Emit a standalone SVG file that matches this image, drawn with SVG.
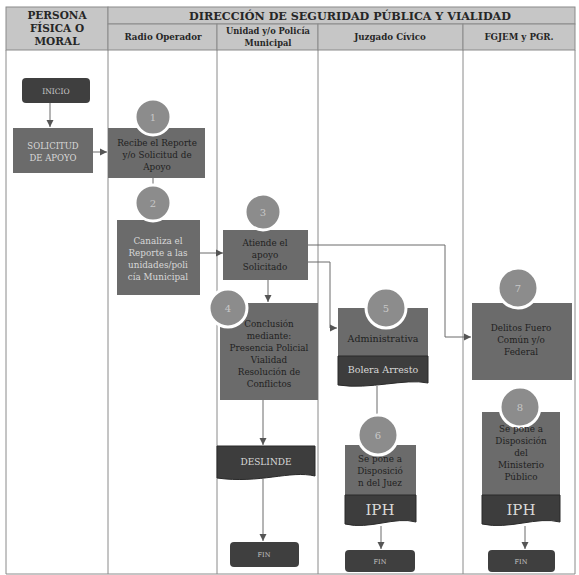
<svg xmlns="http://www.w3.org/2000/svg" width="579" height="575" viewBox="0 0 579 575">
<defs>
<style>
.hdr{fill:#c6c6c6;stroke:#8a8a8a;stroke-width:1}
.ht{font-family:"DejaVu Serif",serif;font-weight:700;fill:#262626;text-anchor:middle}
.lane{fill:none;stroke:#8a8a8a;stroke-width:1}
.box{fill:#6b6b6b}
.dark{fill:#3d3d3d;stroke:#2a2a2a;stroke-width:1}
.term{fill:#3f3f3f}
.num{fill:#8c8c8c;stroke:#ffffff;stroke-width:3}
.t{font-family:"DejaVu Serif",serif;font-size:8.8px;fill:#1f1f1f;text-anchor:middle}
.tl{font-family:"DejaVu Serif",serif;font-size:8.8px;fill:#d8d8d8;text-anchor:middle}
.nt{font-family:"DejaVu Serif",serif;font-size:10px;fill:#c8c8c8;text-anchor:middle}
.c{fill:none;stroke:#6a6a6a;stroke-width:1}
</style>
<marker id="ah" markerWidth="8" markerHeight="8" refX="7" refY="4" orient="auto" markerUnits="userSpaceOnUse">
<path d="M0,0.5 L7,4 L0,7.5 Z" fill="#555"/>
</marker>
</defs>
<rect width="579" height="575" fill="#ffffff"/>
<g id="lanes">
<rect class="hdr" x="6" y="7" width="102" height="43"/>
<rect class="hdr" x="108" y="7" width="467" height="17"/>
<rect class="hdr" x="108" y="24" width="109" height="26"/>
<rect class="hdr" x="217" y="24" width="101" height="26"/>
<rect class="hdr" x="318" y="24" width="145" height="26"/>
<rect class="hdr" x="463" y="24" width="112" height="26"/>
<text class="ht" font-size="10.5" x="57" y="19">PERSONA</text>
<text class="ht" font-size="10.5" x="57" y="32">FÍSICA O</text>
<text class="ht" font-size="10.5" x="57" y="45">MORAL</text>
<text class="ht" font-size="11.5" x="350" y="20" textLength="322" lengthAdjust="spacingAndGlyphs">DIRECCIÓN DE SEGURIDAD PÚBLICA Y VIALIDAD</text>
<text class="ht" font-size="8.7" x="163" y="40">Radio Operador</text>
<text class="ht" font-size="8.3" x="268" y="34">Unidad y/o Policía</text>
<text class="ht" font-size="8.3" x="268" y="46">Municipal</text>
<text class="ht" font-size="8.7" x="390" y="40">Juzgado Cívico</text>
<text class="ht" font-size="8.7" x="519" y="40">FGJEM y PGR.</text>
<path class="lane" d="M6,50 V574 H575 V50 M108,50 V574 M217,50 V574 M318,50 V574 M463,50 V574"/>
</g>
<g id="connectors">
<path class="c" d="M50,103 V127" marker-end="url(#ah)"/>
<path class="c" d="M93,152 H107" marker-end="url(#ah)"/>
<path class="c" d="M153,178 V186"/>
<path class="c" d="M200,253 H223" marker-end="url(#ah)"/>
<path class="c" d="M308,245 H445 V337 H471" marker-end="url(#ah)"/>
<path class="c" d="M308,262 H330 V328 H337" marker-end="url(#ah)"/>
<path class="c" d="M268,280 V302" marker-end="url(#ah)"/>
<path class="c" d="M263,400 V445" marker-end="url(#ah)"/>
<path class="c" d="M263,479 V541" marker-end="url(#ah)"/>
<path class="c" d="M377,386 V415"/>
<path class="c" d="M381,526 V549" marker-end="url(#ah)"/>
<path class="c" d="M525,526 V549" marker-end="url(#ah)"/>
</g>
<g id="inicio">
<rect class="term" x="22" y="78" width="68" height="25" rx="4"/>
<text class="nt" style="font-size:7.5px" x="56" y="93.5">INICIO</text>
</g>
<g id="solicitud">
<rect class="box" x="13" y="128" width="80" height="45"/>
<text class="tl" style="font-size:8.5px" x="53" y="149">SOLICITUD</text>
<text class="tl" style="font-size:8.5px" x="53" y="161">DE APOYO</text>
</g>
<g id="n1">
<rect class="box" x="108" y="128" width="97" height="50"/>
<circle class="num" cx="153" cy="117" r="18"/>
<text class="nt" x="153" y="121">1</text>
<text class="t" x="157" y="146">Recibe el Reporte</text>
<text class="t" x="157" y="158">y/o Solicitud de</text>
<text class="t" x="157" y="170">Apoyo</text>
</g>
<g id="n2">
<rect class="box" x="117" y="220" width="83" height="75"/>
<circle class="num" cx="153" cy="203" r="18"/>
<text class="nt" x="153" y="207">2</text>
<text class="tl" x="158" y="244">Canaliza el</text>
<text class="tl" x="158" y="256">Reporte a las</text>
<text class="tl" x="158" y="268">unidades/poli</text>
<text class="tl" x="158" y="280">cía Municipal</text>
</g>
<g id="n3">
<rect class="box" x="223" y="230" width="85" height="50"/>
<circle class="num" cx="263" cy="212" r="18"/>
<text class="nt" x="263" y="216">3</text>
<text class="t" x="265" y="246">Atiende el</text>
<text class="t" x="265" y="258">apoyo</text>
<text class="t" x="265" y="270">Solicitado</text>
</g>
<g id="n4">
<rect class="box" x="220" y="303" width="98" height="97"/>
<circle class="num" cx="228" cy="308" r="19"/>
<text class="nt" x="228" y="312">4</text>
<text class="t" x="269" y="327">Conclusión</text>
<text class="t" x="269" y="339">mediante:</text>
<text class="t" x="269" y="351">Presencia Policial</text>
<text class="t" x="269" y="363">Vialidad</text>
<text class="t" x="269" y="375">Resolución de</text>
<text class="t" x="269" y="387">Conflictos</text>
</g>
<g id="deslinde">
<path class="dark" d="M217,446 H315 V476 C290,470 260,484 217,478 Z"/>
<text class="tl" style="font-size:9px" x="266" y="465">DESLINDE</text>
</g>
<g id="fin1">
<rect class="term" x="230" y="542" width="69" height="25" rx="4"/>
<text class="nt" style="font-size:6.5px" x="264" y="557">FIN</text>
</g>
<g id="n5">
<rect class="box" x="338" y="308" width="90" height="48"/>
<path class="dark" d="M338,356 H428 V383 C405,378 370,390 338,385 Z"/>
<circle class="num" cx="386" cy="308" r="20"/>
<text class="nt" x="386" y="312">5</text>
<text class="t" style="font-size:9.5px" x="383" y="342">Administrativa</text>
<text class="tl" style="font-size:9.5px" x="383" y="373">Bolera Arresto</text>
</g>
<g id="n6">
<rect class="box" x="345" y="445" width="71" height="50"/>
<path class="dark" d="M345,495 H416 V522 C395,516 370,530 345,524 Z"/>
<circle class="num" cx="378" cy="435" r="20"/>
<text class="nt" x="378" y="439">6</text>
<text class="t" x="380" y="462">Se pone a</text>
<text class="t" x="380" y="474">Disposició</text>
<text class="t" x="380" y="486">n del Juez</text>
<text class="tl" style="font-size:15px" x="380" y="515">IPH</text>
</g>
<g id="fin2">
<rect class="term" x="345" y="550" width="70" height="22" rx="4"/>
<text class="nt" style="font-size:6.5px" x="380" y="564">FIN</text>
</g>
<g id="n7">
<rect class="box" x="472" y="303" width="100" height="77"/>
<circle class="num" cx="518" cy="288" r="20"/>
<text class="nt" x="518" y="292">7</text>
<text class="t" x="521" y="331">Delitos Fuero</text>
<text class="t" x="521" y="343">Común y/o</text>
<text class="t" x="521" y="355">Federal</text>
</g>
<g id="n8">
<rect class="box" x="482" y="412" width="78" height="83"/>
<path class="dark" d="M482,495 H560 V522 C537,516 510,530 482,524 Z"/>
<circle class="num" cx="520" cy="407" r="20"/>
<text class="nt" x="520" y="411">8</text>
<text class="t" x="521" y="432">Se pone a</text>
<text class="t" x="521" y="444">Disposición</text>
<text class="t" x="521" y="456">del</text>
<text class="t" x="521" y="468">Ministerio</text>
<text class="t" x="521" y="480">Público</text>
<text class="tl" style="font-size:15px" x="521" y="515">IPH</text>
</g>
<g id="fin3">
<rect class="term" x="488" y="550" width="67" height="22" rx="4"/>
<text class="nt" style="font-size:6.5px" x="521" y="564">FIN</text>
</g>
</svg>
